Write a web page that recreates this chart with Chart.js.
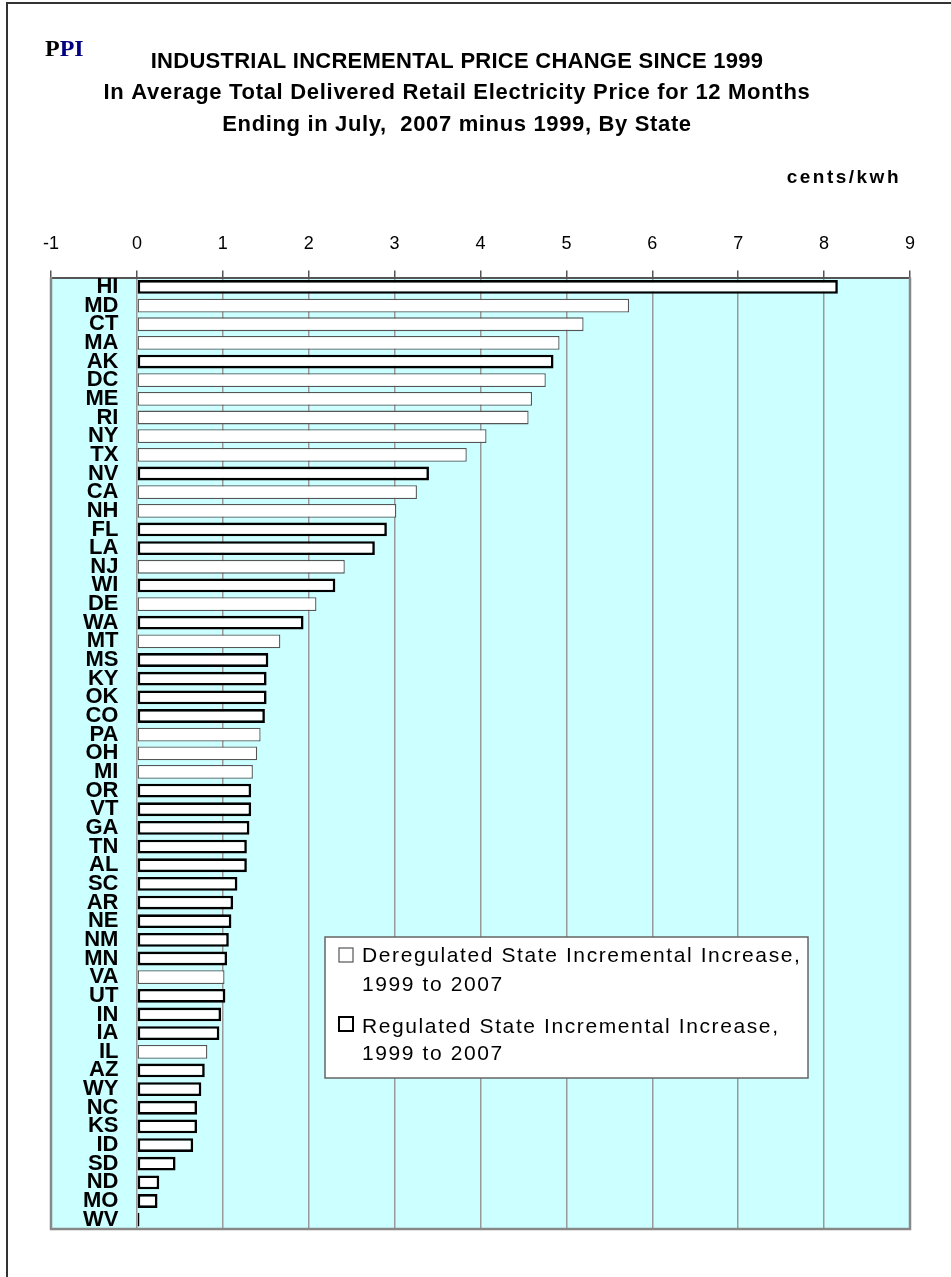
<!DOCTYPE html>
<html><head><meta charset="utf-8">
<script src="https://cdn.jsdelivr.net/npm/chart.js@4.4.1/dist/chart.umd.min.js"></script>
<style>
html,body{margin:0;padding:0;background:#fff;}
#wrap{position:relative;width:951px;height:1277px;overflow:hidden;background:#fff;}
canvas{position:absolute;left:0;top:0;}
</style></head><body>
<div id="wrap"><canvas id="c" width="951" height="1277"></canvas></div>
<script>
const states = ['HI','MD','CT','MA','AK','DC','ME','RI','NY','TX','NV','CA','NH','FL','LA','NJ','WI','DE','WA','MT','MS','KY','OK','CO','PA','OH','MI','OR','VT','GA','TN','AL','SC','AR','NE','NM','MN','VA','UT','IN','IA','IL','AZ','WY','NC','KS','ID','SD','ND','MO','WV'];
const increase = [8.16,5.73,5.20,4.92,4.85,4.76,4.60,4.56,4.07,3.84,3.40,3.26,3.02,2.91,2.77,2.42,2.31,2.09,1.94,1.67,1.53,1.51,1.51,1.49,1.44,1.40,1.35,1.33,1.33,1.31,1.28,1.28,1.17,1.12,1.10,1.07,1.05,1.02,1.03,0.98,0.96,0.82,0.79,0.75,0.70,0.70,0.655,0.45,0.26,0.24,0.03];
const deregulatedStates = ['MD','CT','MA','DC','ME','RI','NY','TX','CA','NH','NJ','DE','MT','PA','OH','MI','VA','IL'];
const xTicks = [-1,0,1,2,3,4,5,6,7,8,9];
const legendLines = [['Deregulated State Incremental Increase,','1999 to 2007'],['Regulated State Incremental Increase,','1999 to 2007']];
const titleLines = ['INDUSTRIAL INCREMENTAL PRICE CHANGE SINCE 1999','In Average Total Delivered Retail Electricity Price for 12 Months','Ending in July,  2007 minus 1999, By State'];
const unitLabel = 'cents/kwh';

const deregData = states.map((s,i)=> deregulatedStates.includes(s) ? increase[i] : null);
const regData = states.map((s,i)=> deregulatedStates.includes(s) ? null : increase[i]);

const SANS = '"Liberation Sans", Arial, sans-serif';

const decor = {
  id:'decor',
  beforeDraw(chart){
    const ctx = chart.ctx, a = chart.chartArea;
    ctx.save();
    ctx.strokeStyle = '#333'; ctx.lineWidth = 2;
    ctx.beginPath(); ctx.moveTo(7,1300); ctx.lineTo(7,3); ctx.lineTo(1000,3); ctx.stroke();
    ctx.fillStyle = '#CCFFFF';
    ctx.fillRect(a.left, a.top, a.right-a.left, a.bottom-a.top);
    ctx.restore();
  },
  afterDraw(chart){
    const ctx = chart.ctx, a = chart.chartArea;
    ctx.save();
    ctx.strokeStyle = '#888'; ctx.lineWidth = 2.5;
    ctx.beginPath(); ctx.moveTo(a.left, a.top); ctx.lineTo(a.left, a.bottom); ctx.lineTo(a.right, a.bottom); ctx.lineTo(a.right, a.top); ctx.stroke();
    ctx.textBaseline = 'middle';
    ctx.font = 'bold 24px "Liberation Serif", serif';
    ctx.textAlign = 'left';
    ctx.fillStyle = '#000'; ctx.fillText('P', 45, 50);
    const pw = ctx.measureText('P').width;
    ctx.fillStyle = '#000080'; ctx.fillText('PI', 45+pw, 50);
    ctx.fillStyle = '#000';
    ctx.font = 'bold 22px ' + SANS;
    ctx.textAlign = 'center';
    const ty = [62, 93, 125];
    const tsp = ['0.25px','0.7px','0.65px'];
    titleLines.forEach((t,i)=>{ ctx.letterSpacing = tsp[i]; ctx.fillText(t, 457, ty[i]); });
    ctx.font = 'bold 19px ' + SANS;
    ctx.textAlign = 'right';
    ctx.letterSpacing = '2.5px';
    ctx.fillText(unitLabel, 901, 178);
    ctx.letterSpacing = '0px';
    const lx = 325, ly = 937, lw = 483, lh = 141;
    ctx.fillStyle = '#fff'; ctx.fillRect(lx, ly, lw, lh);
    ctx.strokeStyle = '#666'; ctx.lineWidth = 1.5; ctx.strokeRect(lx, ly, lw, lh);
    const ds = chart.data.datasets;
    const rows = [[948, 956, 985],[1017, 1027, 1054]];
    ctx.font = '21px ' + SANS;
    ctx.textAlign = 'left';
    ctx.letterSpacing = '1.6px';
    ds.forEach((d,i)=>{
      const r = rows[i];
      ctx.fillStyle = '#fff';
      ctx.fillRect(339, r[0], 14, 14);
      ctx.strokeStyle = d.borderColor; ctx.lineWidth = i===0 ? 1.2 : 2;
      ctx.strokeRect(339, r[0], 14, 14);
      ctx.fillStyle = '#000';
      ctx.fillText(legendLines[i][0], 362, r[1]);
      ctx.fillText(legendLines[i][1], 362, r[2]);
    });
    ctx.letterSpacing = '0px';
    ctx.restore();
  }
};

const barCommon = {backgroundColor:'#ffffff', borderSkipped:false, grouped:false, barPercentage:0.74, categoryPercentage:1};

new Chart(document.getElementById('c'), {
  type:'bar',
  data:{
    labels: states,
    datasets:[
      Object.assign({label: legendLines[0].join(' '), data: deregData, borderColor:'#555', borderWidth:1.3}, barCommon),
      Object.assign({label: legendLines[1].join(' '), data: regData, borderColor:'#000', borderWidth:2.6}, barCommon)
    ]
  },
  options:{
    indexAxis:'y', responsive:false, animation:false, devicePixelRatio:1,
    layout:{padding:{left:51, right:41, top:217, bottom:48}},
    plugins:{legend:{display:false}, title:{display:false}, tooltip:{enabled:false}},
    scales:{
      x:{
        position:'top', min:xTicks[0], max:xTicks[xTicks.length-1],
        afterBuildTicks(scale){ scale.ticks = xTicks.map(v=>({value:v})); },
        ticks:{font:{family:SANS, size:18}, color:'#000', padding:16},
        grid:{color:'#999', lineWidth:1.5, tickLength:7, tickColor:'#555', tickWidth:1.5},
        border:{color:'#555', width:2}
      },
      y:{
        afterFit(scale){ scale.width = 0; },
        ticks:{mirror:true, crossAlign:'far', padding:32, autoSkip:false, font:{family:SANS, size:22, weight:'bold'}, color:'#000'},
        grid:{display:false, drawTicks:false},
        border:{display:true, color:'#888', width:2}
      }
    }
  },
  plugins:[decor]
});
</script>
</body></html>
